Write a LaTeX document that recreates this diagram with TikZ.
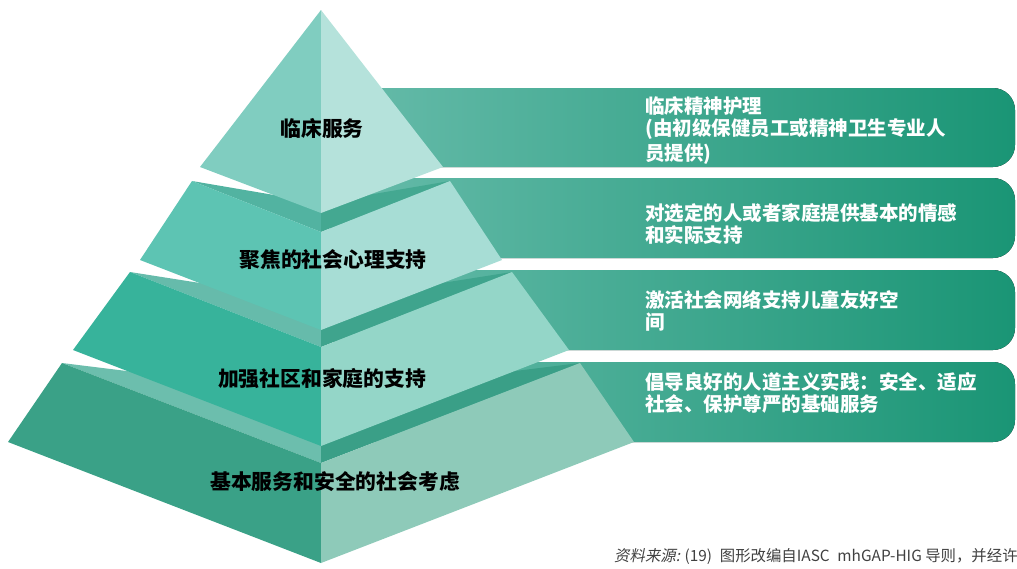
\documentclass[tikz,border=0pt]{standalone}
\usepackage{fontspec}
\newfontfamily\cjk{Noto Sans CJK SC}
\newfontfamily\cjkslant{Noto Sans CJK SC}[FakeSlant=0.2]
\usetikzlibrary{calc}
\definecolor{tIL}{HTML}{80CDC0}\definecolor{tIR}{HTML}{B5E2DB}
\definecolor{tIIL}{HTML}{5DC4B3}\definecolor{tIIR}{HTML}{A7DDD5}
\definecolor{tIITL}{HTML}{52B3A1}\definecolor{tIITR}{HTML}{44A891}
\definecolor{tIIIL}{HTML}{37B39B}\definecolor{tIIIR}{HTML}{94D6C8}
\definecolor{tIIITL}{HTML}{66BBAB}\definecolor{tIIITR}{HTML}{3FA48D}
\definecolor{tIVL}{HTML}{3AA187}\definecolor{tIVR}{HTML}{8ECAB9}
\definecolor{tIVTL}{HTML}{6CBEAD}\definecolor{tIVTR}{HTML}{3A9F87}
\definecolor{ribA}{HTML}{68BCAB}\definecolor{ribB}{HTML}{1A9575}
\definecolor{srcgray}{HTML}{404040}
\tikzset{
  ribbon/.style={left color=ribA, right color=ribB, draw=none, rounded corners=22pt},
  tierlabel/.style={font=\cjk\bfseries\fontsize{20.8}{22}\selectfont, text=black, inner sep=0pt},
  ribtext/.style={font=\cjk\bfseries\fontsize{19.5}{22}\selectfont, text=white, inner sep=0pt, align=left, anchor=west},
}
\begin{document}
\begin{tikzpicture}[x=1pt,y=-1pt]
\useasboundingbox (0,0) rectangle (1017,568);
% ribbons (behind pyramid)
\fill[ribbon] (330,88) -- (1015,88) -- (1015,167) -- (330,167) [sharp corners] -- cycle;
\fill[ribbon] (330,178) -- (1015,178) -- (1015,258) -- (330,258) [sharp corners] -- cycle;
\fill[ribbon] (330,270) -- (1015,270) -- (1015,350) -- (330,350) [sharp corners] -- cycle;
\fill[ribbon] (330,362) -- (1015,362) -- (1015,442) -- (330,442) [sharp corners] -- cycle;
% tier 4 (bottom)
\coordinate (d-tl) at (62,363); \coordinate (d-tr) at (580,363);
\coordinate (d-bk) at (321,395); \coordinate (d-fc) at (321,463);
\coordinate (d-bc) at (321,563); \coordinate (d-bl) at (8,442); \coordinate (d-br) at (634,442);
\fill[tIVTL] (d-tl) -- (d-bk) -- (d-fc) -- cycle;
\fill[tIVTR] (d-bk) -- (d-tr) -- (d-fc) -- cycle;
\fill[tIVL] (d-tl) -- (d-fc) -- (d-bc) -- (d-bl) -- cycle;
\fill[tIVR] (d-fc) -- (d-tr) -- (d-br) -- (d-bc) -- cycle;
% tier 3
\coordinate (c-tl) at (130,272); \coordinate (c-tr) at (512,272);
\coordinate (c-bk) at (321,302); \coordinate (c-fc) at (321,347);
\coordinate (c-bc) at (321,446); \coordinate (c-bl) at (73,350); \coordinate (c-br) at (569,350);
\fill[tIIITL] (c-tl) -- (c-bk) -- (c-fc) -- cycle;
\fill[tIIITR] (c-bk) -- (c-tr) -- (c-fc) -- cycle;
\fill[tIIIL] (c-tl) -- (c-fc) -- (c-bc) -- (c-bl) -- cycle;
\fill[tIIIR] (c-fc) -- (c-tr) -- (c-br) -- (c-bc) -- cycle;
% tier 2
\coordinate (b-tl) at (192,181); \coordinate (b-tr) at (450,181);
\coordinate (b-bk) at (321,203); \coordinate (b-fc) at (321,232);
\coordinate (b-bc) at (321,330); \coordinate (b-bl) at (140,260); \coordinate (b-br) at (502,260);
\fill[tIITL] (b-tl) -- (b-bk) -- (b-fc) -- cycle;
\fill[tIITR] (b-bk) -- (b-tr) -- (b-fc) -- cycle;
\fill[tIIL] (b-tl) -- (b-fc) -- (b-bc) -- (b-bl) -- cycle;
\fill[tIIR] (b-fc) -- (b-tr) -- (b-br) -- (b-bc) -- cycle;
% tier 1 (top)
\coordinate (a-ap) at (321,10); \coordinate (a-bc) at (321,213);
\coordinate (a-bl) at (200,167); \coordinate (a-br) at (443,167);
\fill[tIL] (a-ap) -- (a-bc) -- (a-bl) -- cycle;
\fill[tIR] (a-ap) -- (a-br) -- (a-bc) -- cycle;
% tier labels
\node[tierlabel] (l1) at (322,128) {临床服务};
\node[tierlabel] (l2) at (333,260) {聚焦的社会心理支持};
\node[tierlabel] (l3) at (322,379) {加强社区和家庭的支持};
\node[tierlabel] (l4) at (335,482) {基本服务和安全的社会考虑};
% ribbon texts
\node[ribtext] (r1) at (645,131) {临床精神护理\\(由初级保健员工或精神卫生专业人\\[3pt]员提供)};
\node[ribtext] (r2) at (645,224) {对选定的人或者家庭提供基本的情感\\和实际支持};
\node[ribtext] (r3) at (645,311) {激活社会网络支持儿童友好空\\间};
\node[ribtext] (r4) at (645,393) {倡导良好的人道主义实践：安全、适应\\社会、保护尊严的基础服务};
% source line
\node[anchor=west, inner sep=0pt, text=srcgray, font=\cjk\fontsize{15.4}{17}\selectfont] (src) at (614,556)
  {{\cjkslant 资料来源:} (19)\enspace 图形改编自IASC\enspace mhGAP-HIG 导则，并经许};
\end{tikzpicture}
\end{document}
